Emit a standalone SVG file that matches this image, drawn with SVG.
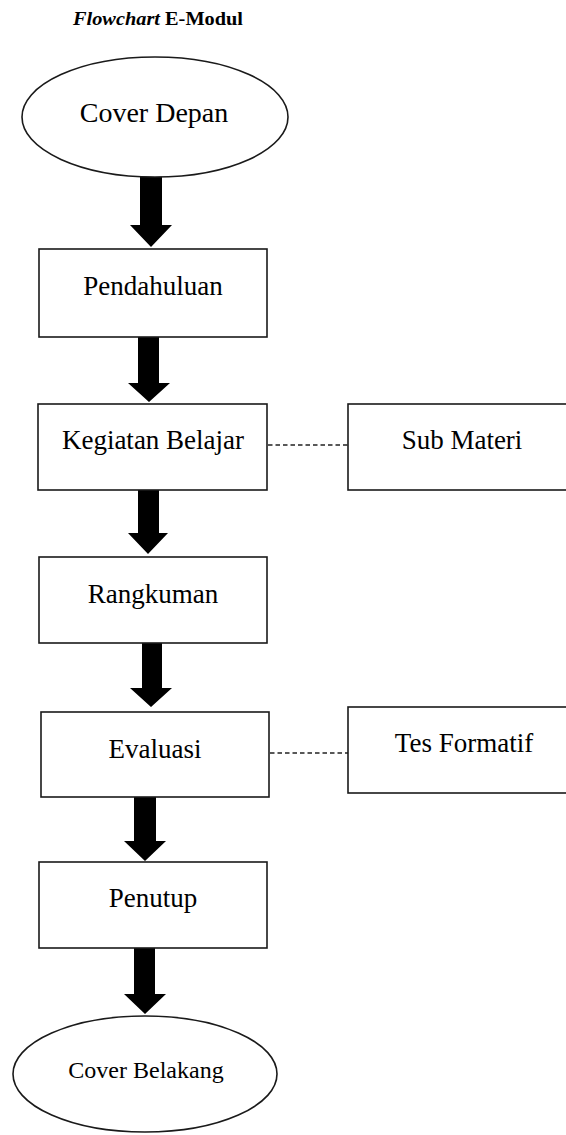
<svg xmlns="http://www.w3.org/2000/svg" width="566" height="1135" viewBox="0 0 566 1135">
<style>
  .box { fill: #fff; stroke: #1a1a1a; stroke-width: 1.6; }
  .lbl { font-family: "Liberation Serif", "Times New Roman", serif; font-size: 27px; fill: #000; text-anchor: middle; }
  .arrow { fill: #000; stroke: none; }
  .dash { stroke: #222; stroke-width: 1.3; stroke-dasharray: 4.5 3; fill: none; }
  .title { font-family: "Liberation Serif", "Times New Roman", serif; font-size: 18px; font-weight: bold; fill: #000; }
</style>
<rect width="566" height="1135" fill="#fff"/>
<text class="title" x="73" y="25" textLength="170" lengthAdjust="spacingAndGlyphs"><tspan font-style="italic">Flowchart</tspan> E-Modul</text>

<g id="connectors">
  <polygon class="arrow" points="140,176 162,176 162,225 172,225 151,247 130,225 140,225"/>
  <polygon class="arrow" points="138,337 159,337 159,383 170,383 149,402 128,383 138,383"/>
  <polygon class="arrow" points="138,490 159,490 159,533 168,533 148,554 128,533 138,533"/>
  <polygon class="arrow" points="142,643 162,643 162,688 172,688 151,707 130,688 142,688"/>
  <polygon class="arrow" points="134,797 156,797 156,841 166,841 145,861 124,841 134,841"/>
  <polygon class="arrow" points="134,948 155,948 155,994 166,994 145,1014 124,994 134,994"/>
  <line class="dash" x1="268" y1="445" x2="348" y2="445"/>
  <line class="dash" x1="270" y1="753" x2="348" y2="753"/>
</g>

<g id="cover-depan">
  <ellipse class="box" cx="155" cy="117" rx="133" ry="60"/>
  <text class="lbl" x="154" y="122" style="font-size:28px">Cover Depan</text>
</g>
<g id="pendahuluan">
  <rect class="box" x="39" y="249" width="228" height="88"/>
  <text class="lbl" x="153" y="295">Pendahuluan</text>
</g>
<g id="kegiatan-belajar">
  <rect class="box" x="38" y="404" width="229" height="86"/>
  <text class="lbl" x="153" y="449">Kegiatan Belajar</text>
</g>
<g id="sub-materi">
  <rect class="box" x="348" y="404" width="230" height="86"/>
  <text class="lbl" x="462" y="449">Sub Materi</text>
</g>
<g id="rangkuman">
  <rect class="box" x="39" y="557" width="228" height="86"/>
  <text class="lbl" x="153" y="603">Rangkuman</text>
</g>
<g id="evaluasi">
  <rect class="box" x="41" y="712" width="228" height="85"/>
  <text class="lbl" x="155" y="758">Evaluasi</text>
</g>
<g id="tes-formatif">
  <rect class="box" x="348" y="707" width="230" height="86"/>
  <text class="lbl" x="464" y="752">Tes Formatif</text>
</g>
<g id="penutup">
  <rect class="box" x="39" y="862" width="228" height="86"/>
  <text class="lbl" x="153" y="907">Penutup</text>
</g>
<g id="cover-belakang">
  <ellipse class="box" cx="145" cy="1074" rx="132" ry="58"/>
  <text class="lbl" x="146" y="1078" style="font-size:24px">Cover Belakang</text>
</g>
</svg>
